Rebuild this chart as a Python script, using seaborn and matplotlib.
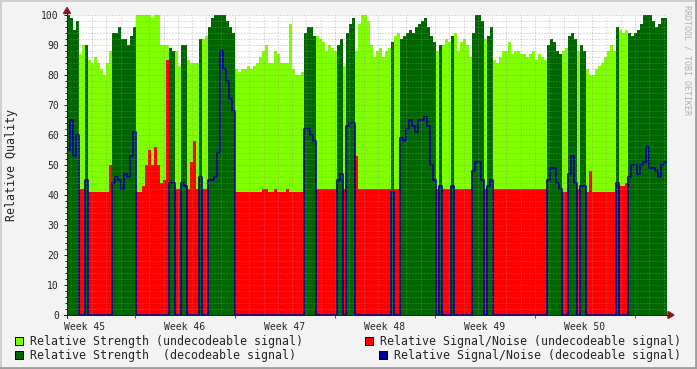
import numpy as np
import pandas as pd
import matplotlib
matplotlib.use("Agg")
import matplotlib.pyplot as plt
import seaborn as sns
from matplotlib.patches import Rectangle, Polygon
from matplotlib.lines import Line2D
from matplotlib.transforms import IdentityTransform

# one sample every ~5 hours over six weeks (200 samples)
# 1 = decodeable signal, 0 = undecodeable signal
decoded = [
    1, 1, 1, 1, 0, 0, 1, 0, 0, 0, 0, 0, 0, 0, 0, 1, 1, 1, 1, 1,
    1, 1, 1, 0, 0, 0, 0, 0, 0, 0, 0, 0, 0, 0, 1, 1, 0, 0, 1, 1,
    0, 0, 0, 0, 1, 0, 0, 1, 1, 1, 1, 1, 1, 1, 1, 1, 0, 0, 0, 0,
    0, 0, 0, 0, 0, 0, 0, 0, 0, 0, 0, 0, 0, 0, 0, 0, 0, 0, 0, 1,
    1, 1, 1, 0, 0, 0, 0, 0, 0, 0, 1, 1, 0, 1, 1, 1, 0, 0, 0, 0,
    0, 0, 0, 0, 0, 0, 0, 0, 1, 0, 0, 1, 1, 1, 1, 1, 1, 1, 1, 1,
    1, 1, 1, 0, 1, 0, 0, 0, 1, 0, 0, 0, 0, 0, 0, 1, 1, 1, 1, 0,
    1, 1, 0, 0, 0, 0, 0, 0, 0, 0, 0, 0, 0, 0, 0, 0, 0, 0, 0, 0,
    1, 1, 1, 1, 1, 0, 0, 1, 1, 1, 0, 1, 1, 0, 0, 0, 0, 0, 0, 0,
    0, 0, 0, 1, 0, 0, 0, 1, 1, 1, 1, 1, 1, 1, 1, 1, 1, 1, 1, 1,
]
strength = [
    100, 99, 95, 98, 87, 90, 90, 85, 84, 86, 84, 82, 80, 84, 88, 94, 94, 96, 92, 92,
    90, 93, 96, 100, 100, 100, 100, 100, 99, 100, 100, 90, 90, 90, 89, 88, 88, 83, 90, 90,
    85, 84, 84, 84, 92, 92, 93, 96, 99, 100, 100, 100, 100, 98, 96, 94, 82, 81, 82, 82,
    83, 82, 83, 84, 86, 88, 90, 84, 84, 88, 87, 84, 84, 84, 97, 82, 80, 80, 81, 94,
    96, 96, 93, 93, 92, 91, 88, 90, 89, 88, 90, 92, 83, 94, 97, 99, 88, 97, 100, 100,
    98, 90, 86, 88, 89, 86, 88, 89, 91, 93, 94, 92, 93, 94, 95, 94, 96, 97, 98, 99,
    96, 93, 91, 88, 90, 90, 92, 91, 93, 94, 88, 91, 92, 90, 86, 94, 100, 100, 98, 92,
    93, 96, 85, 84, 86, 88, 88, 91, 87, 88, 88, 87, 87, 86, 87, 88, 85, 87, 86, 85,
    90, 92, 91, 88, 87, 88, 89, 93, 94, 92, 88, 90, 88, 82, 80, 80, 82, 83, 84, 86,
    88, 90, 88, 96, 95, 94, 95, 94, 93, 94, 95, 97, 100, 100, 100, 98, 96, 97, 99, 99,
]
signal_noise = [
    55, 65, 53, 60, 42, 42, 45, 41, 41, 41, 41, 41, 41, 41, 50, 44, 46, 45, 42, 47,
    46, 53, 61, 41, 41, 43, 50, 55, 50, 56, 50, 44, 45, 85, 44, 44, 42, 42, 44, 43,
    42, 51, 58, 42, 46, 42, 42, 45, 45, 46, 54, 88, 82, 78, 72, 68, 41, 41, 41, 41,
    41, 41, 41, 41, 41, 42, 42, 41, 41, 42, 41, 41, 41, 42, 41, 41, 41, 41, 41, 62,
    62, 60, 58, 42, 42, 42, 42, 42, 42, 42, 45, 47, 42, 63, 64, 64, 53, 42, 42, 42,
    42, 42, 42, 42, 42, 42, 42, 42, 41, 42, 42, 59, 58, 62, 65, 63, 61, 65, 65, 66,
    63, 50, 45, 42, 43, 42, 42, 42, 43, 42, 42, 42, 42, 42, 42, 48, 51, 51, 45, 42,
    43, 45, 42, 42, 42, 42, 42, 42, 42, 42, 42, 42, 42, 42, 42, 42, 42, 42, 42, 42,
    45, 49, 49, 44, 42, 41, 41, 47, 53, 44, 42, 43, 43, 41, 48, 41, 41, 41, 41, 41,
    41, 41, 41, 44, 43, 43, 44, 46, 50, 50, 47, 50, 51, 56, 49, 49, 48, 46, 50, 51,
]
week_labels = ["Week 45", "Week 46", "Week 47", "Week 48", "Week 49", "Week 50"]
legend_labels = [
    "Relative Strength (undecodeable signal)",
    "Relative Signal/Noise (undecodeable signal)",
    "Relative Strength  (decodeable signal)",
    "Relative Signal/Noise (decodeable signal)",
]

LIGHT_GREEN = "#80ff00"
DARK_GREEN = "#006600"
RED = "#ff0000"
BLUE = "#000099"

W, H = 697, 369
sns.set_style("white")
plt.rcParams["font.family"] = ["DejaVu Sans Mono"]

dec = np.array(decoded, dtype=bool)
strg = np.array(strength, dtype=float)
sn = np.array(signal_noise, dtype=float)
days = np.arange(len(strg) + 1) * 0.21  # bin edges in days

def ext(v):
    return np.append(v, v[-1])

df = pd.DataFrame({
    "day": days,
    "str_undec": ext(np.where(dec, 0, strg)),
    "str_dec": ext(np.where(dec, strg, 0)),
    "sn_undec": ext(np.where(dec, 0, sn)),
    "sn_dec": ext(np.where(dec, sn, 0)),
})

fig = plt.figure(figsize=(W / 100, H / 100), dpi=100, facecolor="#f3f3f3")
ax = fig.add_axes([67 / W, 54 / H, 600 / W, 300 / H])
ax.set_facecolor("white")

ax.fill_between(df["day"], 0, df["str_undec"], step="post", color=LIGHT_GREEN, lw=0, zorder=1)
ax.fill_between(df["day"], 0, df["str_dec"], step="post", color=DARK_GREEN, lw=0, zorder=2)
ax.fill_between(df["day"], 0, df["sn_undec"], step="post", color=RED, lw=0, zorder=3)
sns.lineplot(data=df, x="day", y="sn_dec", drawstyle="steps-post", color=BLUE,
             linewidth=1.2, estimator=None, ax=ax, zorder=4, legend=False)

ax.set_xlim(0, 42)
ax.set_ylim(0, 100)
ax.set_xlabel("")
ax.set_ylabel("")
for s in ax.spines.values():
    s.set_visible(False)

# grid on top of the data, rrdtool style
grid_c = (0.56, 0.56, 0.56, 0.6)
mgrid_c = (0.88, 0.31, 0.31, 0.55)
for v in range(2, 100, 2):
    ax.axhline(v, color=mgrid_c if v % 10 == 0 else grid_c, lw=0.72,
               dashes=(1, 2), zorder=5)
ax.axhline(100, color=mgrid_c, lw=0.72, dashes=(1, 2), zorder=5)
for k in range(42):
    d = 0.76 + k
    ax.axvline(d, color=mgrid_c if k % 7 == 4 else grid_c, lw=0.72,
               dashes=(1, 2), zorder=5)

ax.set_yticks(range(0, 101, 10))
ax.set_yticks(range(0, 101, 2), minor=True)
ax.set_xticks([1.26 + 7 * k for k in range(6)], week_labels)
ax.set_xticks([4.76 + 7 * k for k in range(6)], minor=True)
ax.tick_params(axis="y", which="major", length=2.5, width=0.72, color="#202020",
               pad=3.4, labelsize=7, left=True)
ax.tick_params(axis="y", which="minor", length=1.2, width=0.72, color="#202020", left=True)
ax.tick_params(axis="x", which="major", length=0, pad=5, labelsize=7, bottom=True)
ax.tick_params(axis="x", which="minor", length=2.5, width=0.72, color="#a04040", bottom=True)

px = IdentityTransform()
def line(x0, y0, x1, y1, c, lw=0.72):
    fig.add_artist(Line2D([x0, x1], [H - y0, H - y1], color=c, lw=lw, transform=px))

# axes lines and arrows
line(67, 318, 67, 12, "#202020")
line(64, 315, 669, 315, "#202020")
fig.add_artist(Polygon([[63.5, H - 13.5], [70.5, H - 13.5], [67, H - 7.5]],
                       closed=True, color="#8b1a1a", transform=px))
fig.add_artist(Polygon([[668, H - 311.5], [668, H - 318.5], [674, H - 315]],
                       closed=True, color="#8b1a1a", transform=px))

# 3d frame
line(0, 0.5, W, 0.5, "#cfcfcf", 1.4)
line(0.5, 0, 0.5, H, "#cfcfcf", 1.4)
line(0, H - 1, W, H - 1, "#9e9e9e", 2.0)
line(W - 1, 0, W - 1, H, "#9e9e9e", 2.0)

fig.text(12 / W, 1 - 165 / H, "Relative Quality", rotation=90, ha="center",
         va="center", fontsize=8.4)
fig.text(687 / W, 1 - 60 / H, "RRDTOOL / TOBI OETIKER", rotation=270, ha="center",
         va="center", fontsize=6, color="#b0b0b0")

# legend
legend_pos = [(15, 341, LIGHT_GREEN), (365, 341, RED), (15, 355, DARK_GREEN), (379, 355, BLUE)]
for (x, y, c), lab in zip(legend_pos, legend_labels):
    fig.add_artist(Rectangle((x, H - y - 4), 8, 8, facecolor=c, edgecolor="black",
                             lw=0.72, transform=px))
    fig.text((x + 15) / W, 1 - y / H, lab, ha="left", va="center", fontsize=8.4)

fig.savefig("out.png", dpi=100, facecolor=fig.get_facecolor())
